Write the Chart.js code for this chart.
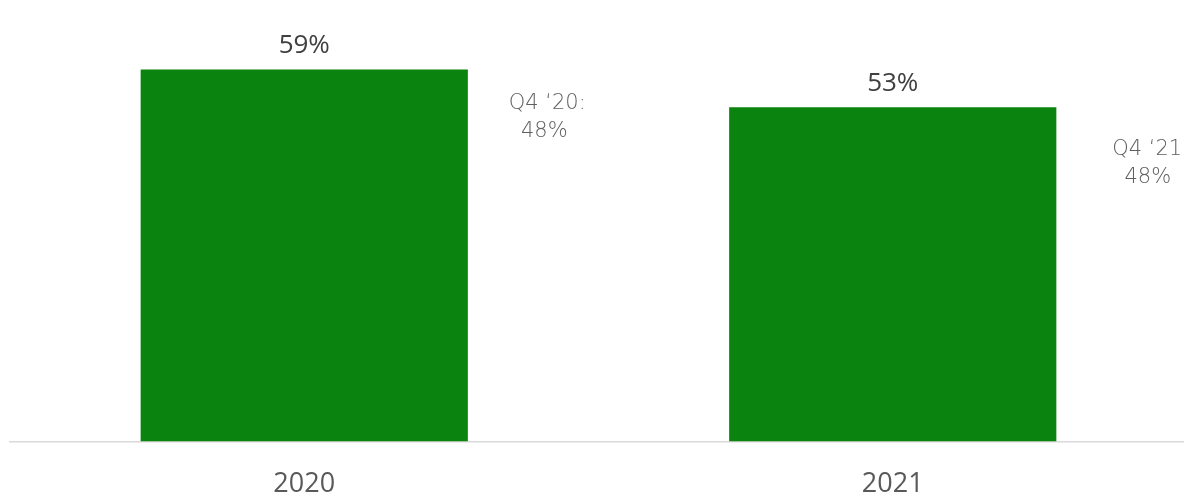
<!DOCTYPE html>
<html>
<head>
<meta charset="utf-8">
<script src="https://cdn.jsdelivr.net/npm/chart.js@4/dist/chart.umd.min.js"></script>
<style>
  html, body { margin: 0; padding: 0; background: #fff; overflow: hidden; }
  #wrap { position: relative; width: 1188px; height: 496px; }
</style>
</head>
<body>
<div id="wrap"><canvas id="chart"></canvas></div>
<script>
const years = ['2020', '2021'];
const shares = [59, 53];
const q4Labels = ['Q4 \u201820:', 'Q4 \u201821:'];
const q4Values = [48, 48];

// value on top of each bar, plus the Q4 note to the right of it
const barLabels = {
  id: 'barLabels',
  afterDatasetsDraw(chart) {
    const ctx = chart.ctx;
    const meta = chart.getDatasetMeta(0);
    const noteShift = [[243, 34], [258, 42]];
    ctx.save();
    ctx.textAlign = 'center';
    ctx.textBaseline = 'middle';
    meta.data.forEach((bar, i) => {
      ctx.fillStyle = '#404040';
      ctx.font = '26px "Open Sans"';
      ctx.fillText(shares[i] + '%', bar.x, bar.y - 24);

      ctx.fillStyle = '#606060';
      ctx.font = '200 21px "DejaVu Sans"';
      const nx = bar.x + noteShift[i][0];
      const ny = bar.y + noteShift[i][1];
      ctx.fillText(q4Labels[i], nx, ny);
      ctx.fillText(q4Values[i] + '%', nx - 3, ny + 28);
    });
    ctx.restore();
  }
};

new Chart(document.getElementById('chart'), {
  type: 'bar',
  data: {
    labels: years,
    datasets: [{
      data: shares,
      backgroundColor: '#0a840e',
      borderWidth: 0,
      categoryPercentage: 1,
      barPercentage: 0.556
    }]
  },
  options: {
    responsive: true,
    maintainAspectRatio: false,
    animation: false,
    layout: { padding: { left: 10, right: 1, top: 0, bottom: -32 } },
    plugins: {
      legend: { display: false },
      tooltip: { enabled: false }
    },
    scales: {
      x: {
        grid: { display: false, drawTicks: false },
        border: { display: true, color: '#d9d9d9', width: 1.5 },
        ticks: {
          color: '#595959',
          padding: 27,
          font: { family: 'Open Sans', size: 27 }
        }
      },
      y: {
        display: false,
        min: 0,
        max: 70
      }
    }
  },
  plugins: [barLabels]
});
</script>
</body>
</html>
